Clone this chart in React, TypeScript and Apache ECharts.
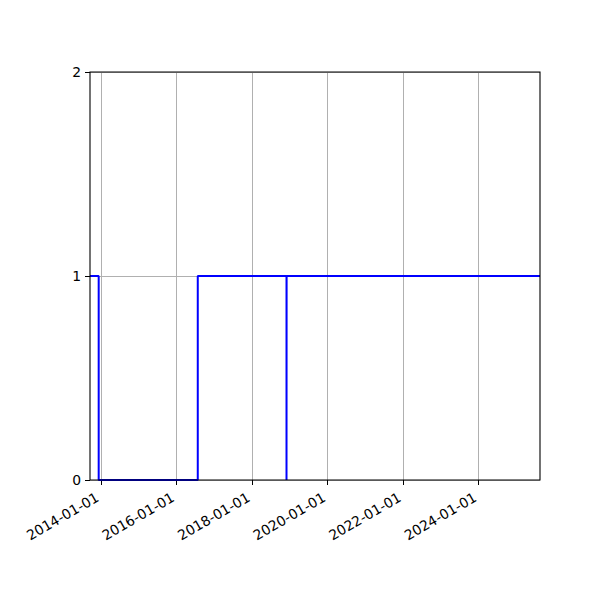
import React, { useEffect, useRef } from "react";
import * as echarts from "echarts";

const stepDates = ["2013-09-17", "2013-12-10", "2016-07-25", "2018-11-30", "2018-12-01", "2025-08-16"];
const stepValues = [1, 0, 1, 0, 1, 1];
const xTickDates = ["2014-01-01", "2016-01-01", "2018-01-01", "2020-01-01", "2022-01-01", "2024-01-01"];
const yTicks = [0, 1, 2];

const toMs = (d: string) => {
  const [y, m, dd] = d.split("-").map(Number);
  return Date.UTC(y, m - 1, dd);
};
const fmt = (v: number) => new Date(v).toISOString().slice(0, 10);

export default function App() {
  const ref = useRef<HTMLDivElement>(null);
  useEffect(() => {
    if (!ref.current) return;
    const chart = echarts.init(ref.current, null, { renderer: "svg" });
    const xMin = toMs(stepDates[0]);
    const xMax = toMs(stepDates[stepDates.length - 1]);
    const font = "DejaVu Sans";
    chart.setOption({
      animation: false,
      backgroundColor: "#ffffff",
      grid: { left: 90, right: 60, top: 72, bottom: 120, containLabel: false },
      xAxis: {
        type: "value",
        min: xMin,
        max: xMax,
        axisLine: { show: false },
        axisTick: {
          show: true,
          length: 5,
          lineStyle: { color: "#000", width: 1 },
          customValues: xTickDates.map(toMs),
        },
        axisLabel: {
          customValues: xTickDates.map(toMs),
          formatter: (v: number) => fmt(v),
          rotate: 30,
          margin: 14,
          padding: [0, 4, 0, 0],
          color: "#000",
          fontFamily: font,
          fontSize: 13.9,
          hideOverlap: false,
        },
        splitLine: { show: true, lineStyle: { color: "#b0b0b0", width: 1 } },
      },
      yAxis: {
        type: "value",
        min: yTicks[0],
        max: yTicks[yTicks.length - 1],
        interval: 1,
        axisLine: { show: false },
        axisTick: { show: true, length: 5, lineStyle: { color: "#000", width: 1 } },
        axisLabel: { margin: 9, color: "#000", fontFamily: font, fontSize: 13.9 },
        splitLine: { show: true, lineStyle: { color: "#b0b0b0", width: 1 } },
      },
      graphic: [
        {
          type: "rect",
          z: 100,
          silent: true,
          shape: { x: 90, y: 72, width: 450, height: 408 },
          style: { fill: "none", stroke: "#000", lineWidth: 1.1 },
        },
      ],
      series: [
        {
          type: "line",
          step: "end",
          showSymbol: false,
          symbol: "none",
          lineStyle: { color: "#0000ff", width: 2 },
          data: stepDates.map((d, i) => [toMs(d), stepValues[i]]),
          z: 5,
        },
      ],
    });
    return () => chart.dispose();
  }, []);
  return (
    <div
      ref={ref}
      style={{ position: "absolute", left: 0, top: 0, width: 600, height: 600 }}
    />
  );
}
